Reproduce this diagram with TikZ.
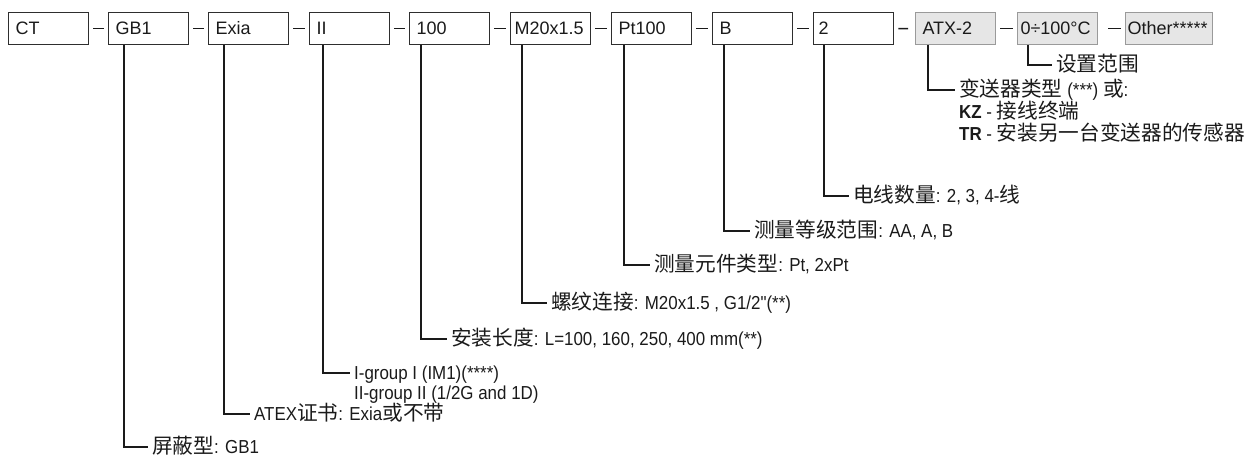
\documentclass[tikz,border=0pt]{standalone}
\usepackage{fontspec}
\setmainfont{Liberation Sans}
\newfontfamily\labfont[FakeStretch=0.9]{Liberation Sans}
\newfontfamily\cjkfont[Scale=1.1]{Noto Sans CJK SC}
\newcommand{\zhs}[1]{{\cjkfont #1}}
\definecolor{boxline}{HTML}{2E2E2E}
\definecolor{lk}{HTML}{1A1A1A}
\definecolor{gfill}{HTML}{E6E6E6}
\definecolor{gline}{HTML}{9A9A9A}
\definecolor{txt}{HTML}{1A1A1A}
\begin{document}
\begin{tikzpicture}[x=1pt,y=-1pt,
  cbox/.style={draw=boxline, line width=1.4pt, minimum height=32pt, inner xsep=7pt,
    text width=66pt, align=left, anchor=north west, text=txt,
    font=\fontsize{18}{20}\selectfont, text height=15pt, text depth=2.5pt},
  gbox/.style={cbox, fill=gfill, draw=gline, line width=1pt},
  link/.style={line width=1.5pt, draw=lk, shorten <=4pt, shorten >=4.5pt},
  lead/.style={line width=1.5pt, draw=lk},
  lab/.style={anchor=west, inner xsep=4pt, inner ysep=0pt, text=txt,
    font=\labfont\fontsize{18.8}{20}\selectfont, text height=16pt, text depth=2.5pt}
]
\useasboundingbox (0,0) rectangle (1255,459);
% boxes
\node[cbox] (b1) at (8,12) {CT};
\node[cbox] (b2) at (108,12) {GB1};
\node[cbox] (b3) at (208,12) {Exia};
\node[cbox] (b4) at (309,12) {II};
\node[cbox] (b5) at (409,12) {100};
\node[cbox, inner xsep=4pt, text width=72pt] (b6) at (510,12) {M20x1.5};
\node[cbox] (b7) at (611,12) {Pt100};
\node[cbox] (b8) at (712,12) {B};
\node[cbox, inner xsep=5pt, text width=70pt] (b9) at (813,12) {2};
\node[gbox] (b10) at (915,12) {ATX-2};
\node[gbox, inner xsep=3pt, text width=74pt] (b11) at (1017,12) {0÷100°C};
\node[gbox, inner xsep=2pt, text width=83pt] (b12) at (1125,12) {Other*****};
% dashes between boxes
\draw[link] (b1) -- (b2);
\draw[link] (b2) -- (b3);
\draw[link] (b3) -- (b4);
\draw[link] (b4) -- (b5);
\draw[link] (b5) -- (b6);
\draw[link] (b6) -- (b7);
\draw[link] (b7) -- (b8);
\draw[link] (b8) -- (b9);
\draw[link, shorten >=7pt] (b9) -- (b10);
\draw[link] (b10) -- (b11);
\draw[link, shorten <=10pt] (b11) -- (b12);
% labels
\node[lab] (l2) at (148,447) {\zhs{屏蔽型}: GB1};
\node[lab] (l3) at (250,414) {ATEX\zhs{证书}: Exia\zhs{或不带}};
\node[lab] (l4a) at (350,373) {I-group I (IM1)(****)};
\node[lab] (l4b) at (350,393) {II-group II (1/2G and 1D)};
\node[lab] (l5) at (447,339) {\zhs{安装长度}: L=100, 160, 250, 400 mm(**)};
\node[lab] (l6) at (547,303) {\zhs{螺纹连接}: M20x1.5 , G1/2"(**)};
\node[lab] (l7) at (650,265) {\zhs{测量元件类型}: Pt, 2xPt};
\node[lab] (l8) at (750,231) {\zhs{测量等级范围}: AA, A, B};
\node[lab] (l9) at (849,196) {\zhs{电线数量}: 2, 3, 4-\zhs{线}};
\node[lab] (l10a) at (955,90) {\zhs{变送器类型} (***) \zhs{或}:};
\node[lab] (l10b) at (955,112) {\textbf{KZ} - \zhs{接线终端}};
\node[lab] (l10c) at (955,134) {\textbf{TR} - \zhs{安装另一台变送器的传感器}};
\node[lab] (l11) at (1052,65) {\zhs{设置范围}};
% leaders
\draw[lead] ([xshift=16pt]b2.south west) |- (l2.west);
\draw[lead] ([xshift=16pt]b3.south west) |- (l3.west);
\draw[lead] ([xshift=14pt]b4.south west) |- (l4a.west);
\draw[lead] ([xshift=12pt]b5.south west) |- (l5.west);
\draw[lead] ([xshift=12pt]b6.south west) |- (l6.west);
\draw[lead] ([xshift=13pt]b7.south west) |- (l7.west);
\draw[lead] ([xshift=12pt]b8.south west) |- (l8.west);
\draw[lead] ([xshift=11pt]b9.south west) |- (l9.west);
\draw[lead] ([xshift=13pt]b10.south west) |- (l10a.west);
\draw[lead] ([xshift=11pt]b11.south west) |- (l11.west);
\end{tikzpicture}
\end{document}
